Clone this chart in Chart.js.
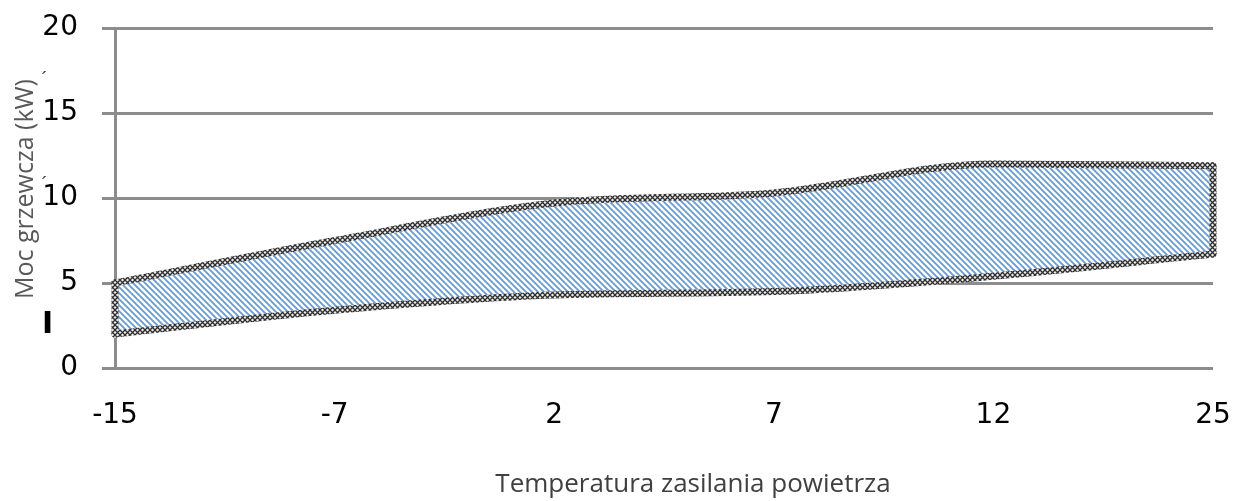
<!DOCTYPE html>
<html>
<head>
<meta charset="utf-8">
<script src="https://cdn.jsdelivr.net/npm/chart.js@4.4.1/dist/chart.umd.min.js"></script>
<style>
  html, body { margin: 0; padding: 0; background: #fff; }
  #wrap { width: 1233px; height: 501px; }
</style>
</head>
<body>
<div id="wrap"><canvas id="myChart"></canvas></div>
<script>
// supply air temperature (°C) and heater power range (kW)
const temperatures = ['-15', '-7', '2', '7', '12', '25'];
const minPower = [2.0, 3.4, 4.3, 4.5, 5.4, 6.7];
const maxPower = [5.0, 7.5, 9.7, 10.3, 12.0, 11.9];
const powerTicks = [0, 5, 10, 15, 20];

const gridGray = '#8c8c8c';

function makePattern(size, draw) {
  const c = document.createElement('canvas');
  c.width = size;
  c.height = size;
  draw(c.getContext('2d'), size);
  return c.getContext('2d').createPattern(c, 'repeat');
}

// light blue diagonal hatch for the band
const hatch = makePattern(6, (c, s) => {
  c.fillStyle = '#ffffff';
  c.fillRect(0, 0, s, s);
  c.strokeStyle = '#6a9bd9';
  c.lineWidth = 1.9;
  c.beginPath();
  c.moveTo(-1, -1); c.lineTo(s + 1, s + 1);
  c.moveTo(-1, s - 1); c.lineTo(1, s + 1);
  c.moveTo(s - 1, -1); c.lineTo(s + 1, 1);
  c.stroke();
});

// dark cross pattern for the outline
const cross = makePattern(5, (c, s) => {
  c.fillStyle = '#ececec';
  c.fillRect(0, 0, s, s);
  c.strokeStyle = '#2e2e2e';
  c.lineWidth = 1.3;
  c.beginPath();
  c.moveTo(0, 0); c.lineTo(s, s);
  c.moveTo(s, 0); c.lineTo(0, s);
  c.stroke();
});

// closes the band at the first and last temperature
const bandEdges = {
  id: 'bandEdges',
  afterDatasetsDraw(chart) {
    const lo = chart.getDatasetMeta(0).data;
    const hi = chart.getDatasetMeta(1).data;
    const ctx = chart.ctx;
    ctx.save();
    ctx.strokeStyle = cross;
    ctx.lineWidth = 7;
    ctx.lineCap = 'round';
    [0, lo.length - 1].forEach(i => {
      ctx.beginPath();
      ctx.moveTo(lo[i].x, lo[i].y);
      ctx.lineTo(hi[i].x, hi[i].y);
      ctx.stroke();
    });
    ctx.restore();
  }
};

// axis titles
const axisTitles = {
  id: 'axisTitles',
  afterDraw(chart) {
    const ctx = chart.ctx;
    const area = chart.chartArea;
    ctx.save();
    ctx.textAlign = 'center';
    ctx.textBaseline = 'alphabetic';

    ctx.fillStyle = '#404040';
    ctx.font = '26px "Open Sans"';
    ctx.fillText('Temperatura zasilania powietrza', (area.left + area.right) / 2 + 29, 492);

    ctx.fillStyle = '#595959';
    ctx.font = '25px "Open Sans"';
    ctx.save();
    ctx.translate(33, (area.top + area.bottom) / 2 - 9);
    ctx.rotate(-Math.PI / 2);
    ctx.fillText('Moc grzewcza (kW)', 0, 0);
    ctx.restore();

    ctx.fillStyle = '#404040';
    ctx.font = '20px "Open Sans"';
    ctx.fillText('´', 44, 86);
    ctx.fillText('´', 44, 191);

    ctx.fillStyle = '#000000';
    ctx.font = 'bold 30px "DejaVu Sans"';
    ctx.fillText('I', 47.5, 333);
    ctx.restore();
  }
};

const tickFont = { family: 'DejaVu Sans', size: 28 };

const config = {
  type: 'line',
  data: {
    labels: temperatures,
    datasets: [{
      label: 'min',
      data: minPower,
      fill: false
    }, {
      label: 'max',
      data: maxPower,
      fill: '-1',
      backgroundColor: hatch
    }]
  },
  options: {
    responsive: true,
    maintainAspectRatio: false,
    animation: false,
    layout: { padding: { top: 28, right: 20, left: 0, bottom: 0 } },
    elements: {
      line: {
        borderColor: cross,
        borderWidth: 7,
        cubicInterpolationMode: 'monotone',
        borderCapStyle: 'round',
        borderJoinStyle: 'round'
      },
      point: { radius: 0, hoverRadius: 0 }
    },
    datasets: { line: { clip: false } },
    plugins: {
      legend: { display: false },
      tooltip: { enabled: false }
    },
    scales: {
      x: {
        type: 'category',
        offset: false,
        afterFit: (s) => { s.height = 133; s.paddingLeft = 0; s.paddingRight = 0; },
        grid: { display: false, drawTicks: false },
        border: { display: false },
        ticks: { padding: 31, color: '#000', font: tickFont, maxRotation: 0, autoSkip: false }
      },
      y: {
        min: 0,
        max: 20,
        afterBuildTicks: (s) => { s.ticks = powerTicks.map(v => ({ value: v })); },
        afterFit: (s) => { s.width = 115; s.paddingTop = 0; s.paddingBottom = 0; },
        grid: { color: gridGray, lineWidth: 3, tickLength: 13 },
        border: { display: true, color: gridGray, width: 3 },
        ticks: { padding: 24, color: '#000', font: tickFont }
      }
    }
  },
  plugins: [bandEdges, axisTitles]
};

const myChart = new Chart(document.getElementById('myChart'), config);
</script>
</body>
</html>
